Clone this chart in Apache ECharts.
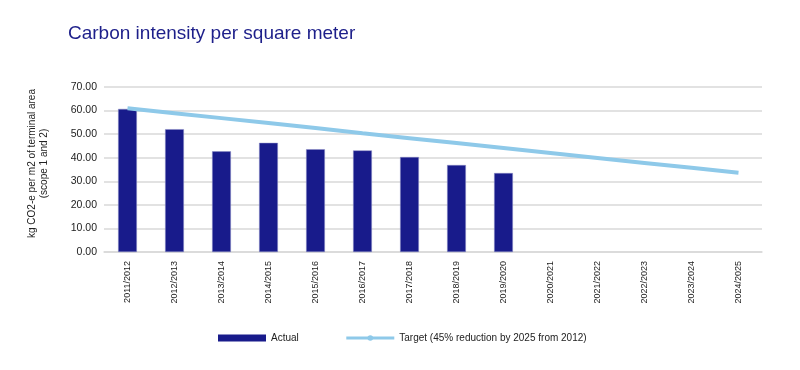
<!DOCTYPE html>
<html>
<head>
<meta charset="utf-8">
<script src="https://cdn.jsdelivr.net/npm/echarts@6/dist/echarts.min.js"></script>
<style>html,body{margin:0;padding:0;background:#fff;}#c{width:800px;height:370px;}</style>
</head>
<body>
<div id="c"></div>
<script>
var categories = ['2011/2012','2012/2013','2013/2014','2014/2015','2015/2016','2016/2017','2017/2018','2018/2019','2019/2020','2020/2021','2021/2022','2022/2023','2023/2024','2024/2025'];
var actual = [60.7, 52.1, 42.7, 46.3, 43.6, 43.1, 40.3, 36.9, 33.5, null, null, null, null, null];
var target = [61.0, 58.9, 56.8, 54.7, 52.6, 50.4, 48.3, 46.2, 44.1, 42.0, 39.9, 37.8, 35.7, 33.6];
var yTicks = { min: 0, max: 70, interval: 10 };

var chart = echarts.init(document.getElementById('c'), null, { renderer: 'canvas' });
var font = 'Liberation Sans, Arial, Helvetica, sans-serif';
chart.setOption({
  animation: false,
  backgroundColor: '#ffffff',
  textStyle: { fontFamily: font },
  title: {
    text: 'Carbon intensity per square meter',
    left: 68, top: 24, padding: 0,
    textStyle: { fontFamily: font, fontSize: 19, fontWeight: 'normal', color: '#1d1f8a' }
  },
  grid: { left: 104, right: 38, top: 87, bottom: 118 },
  legend: {
    left: 218, top: 333, padding: 0,
    itemWidth: 48, itemHeight: 7, itemGap: 46,
    textStyle: { fontFamily: font, fontSize: 10, color: '#222' },
    data: [
      { name: 'Actual', icon: 'rect', itemStyle: { borderWidth: 0 } },
      { name: 'Target (45% reduction by 2025 from 2012)', lineStyle: { width: 3 } }
    ]
  },
  xAxis: {
    type: 'category',
    data: categories,
    axisLine: { show: true, lineStyle: { color: '#d9d9d9', width: 1.5 } },
    axisTick: { show: false },
    axisLabel: { rotate: 90, fontSize: 9, color: '#222', margin: 9, fontFamily: font }
  },
  yAxis: {
    type: 'value',
    min: yTicks.min, max: yTicks.max, interval: yTicks.interval,
    name: 'kg CO2-e per m2 of terminal area\n(scope 1 and 2)',
    nameLocation: 'middle', nameRotate: 90, nameGap: 54,
    nameTextStyle: { fontSize: 10, color: '#222', fontFamily: font, lineHeight: 12, padding: [0, 0, 0, 12] },
    axisLine: { show: false },
    axisTick: { show: false },
    axisLabel: { fontSize: 10.5, color: '#222', margin: 7, fontFamily: font, formatter: function (v) { return v.toFixed(2); } },
    splitLine: { lineStyle: { color: '#d9d9d9', width: 1.5 } }
  },
  series: [
    {
      name: 'Actual', type: 'bar', data: actual, barWidth: '40%',
      itemStyle: { color: '#181b8b', borderColor: '#8a8cc4', borderWidth: 0.5 }
    },
    {
      name: 'Target (45% reduction by 2025 from 2012)', type: 'line', data: target,
      symbol: 'circle', symbolSize: 7, showSymbol: false,
      lineStyle: { color: '#8ec9e9', width: 4 },
      itemStyle: { color: '#8ec9e9' }
    }
  ]
});
</script>
</body>
</html>
